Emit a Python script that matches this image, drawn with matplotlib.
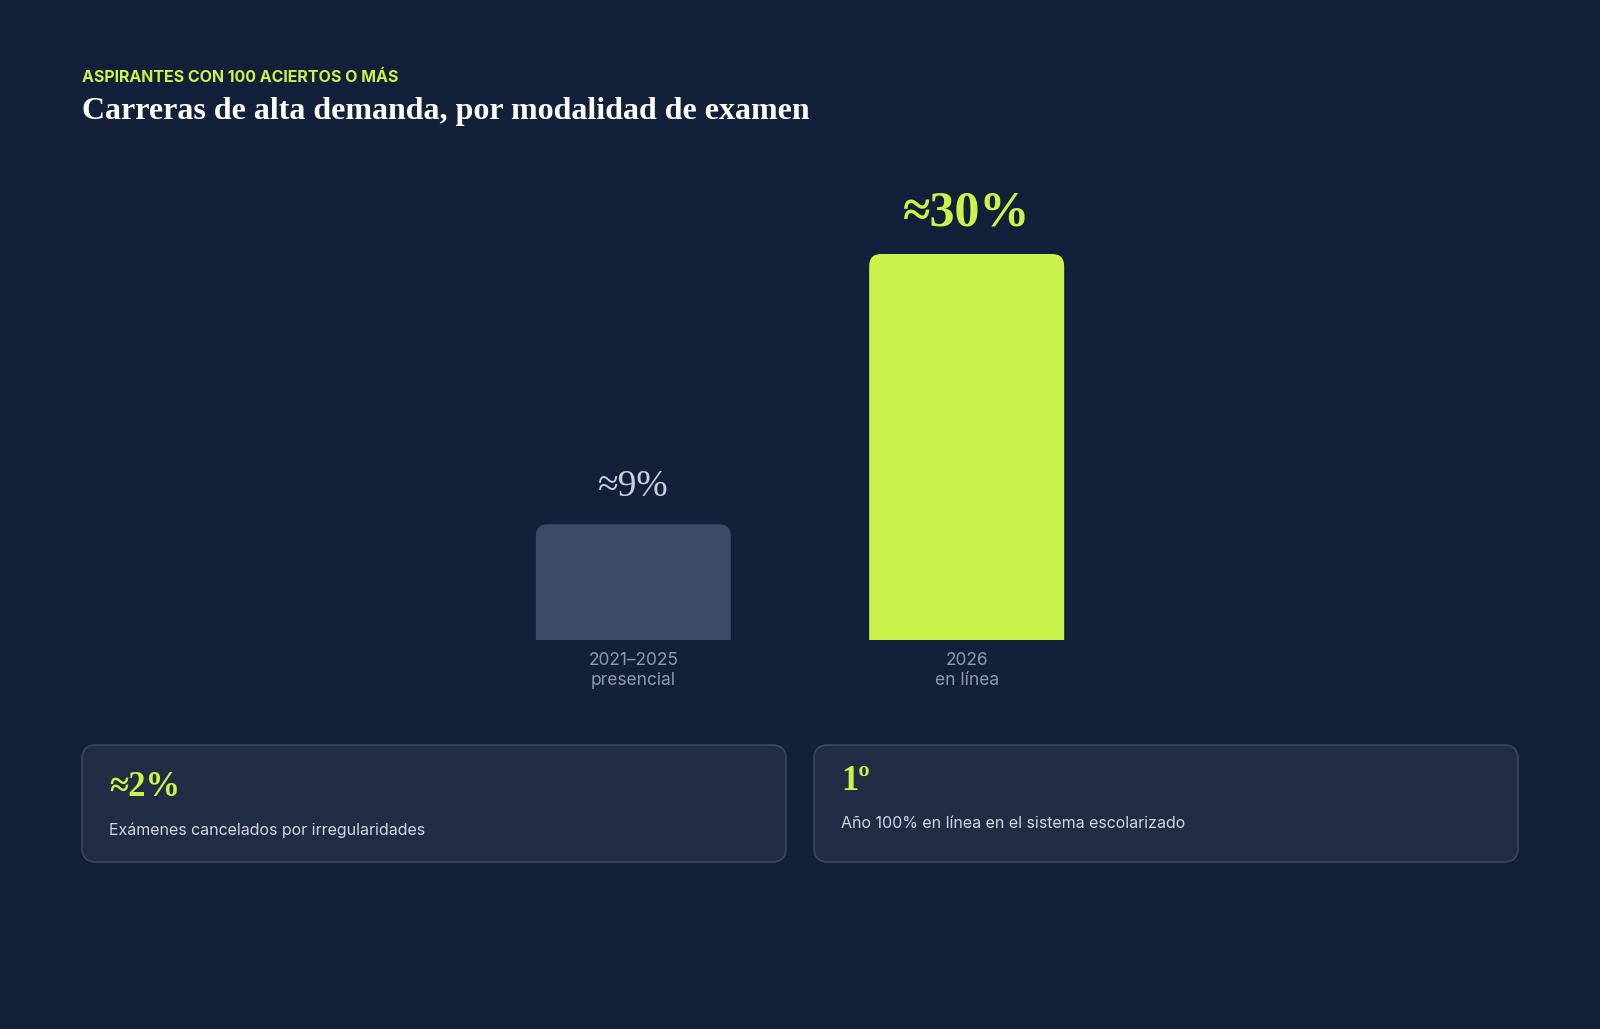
import matplotlib
matplotlib.use("Agg")
import matplotlib.pyplot as plt
from matplotlib.patches import FancyBboxPatch

categories = ["2021–2025\npresencial", "2026\nen línea"]
values = [9, 30]
value_labels = ["≈9%", "≈30%"]
card_values = ["≈2%", "1º"]
card_texts = ["Exámenes cancelados por irregularidades", "Año 100% en línea en el sistema escolarizado"]
kicker = "ASPIRANTES CON 100 ACIERTOS O MÁS"
title = "Carreras de alta demanda, por modalidad de examen"

BG = "#13203A"; GREEN = "#CCF24C"; GREY = "#3D4A66"
SERIF = ["Liberation Serif", "DejaVu Serif"]
SANS = ["Inter", "DejaVu Sans"]

W, H = 1600, 1029
fig = plt.figure(figsize=(W/100, H/100), dpi=100, facecolor=BG)
bgax = fig.add_axes([0, 0, 1, 1]); bgax.set_xlim(0, W); bgax.set_ylim(H, 0); bgax.axis("off")
bgax.set_facecolor(BG)

bgax.text(82, 78, kicker, color=GREEN, fontsize=11.5, fontweight="bold", family=SANS, va="center")
bgax.text(82, 112, title, color="white", fontsize=23, fontweight="bold", family=SERIF, va="center")

# cards
for i, x0 in enumerate([82, 814]):
    bgax.add_patch(FancyBboxPatch((x0, 745), 704, 117, boxstyle="round,pad=0,rounding_size=14",
                                  facecolor="#212D45", edgecolor="#3A4660", lw=1.2))
    bgax.text(x0 + 27, 788 if i == 0 else 782, card_values[i], color=GREEN, fontsize=25,
              fontweight="bold", family=SERIF, va="center")
    bgax.text(x0 + 27, 830 if i == 0 else 823, card_texts[i], color="#D0D6E0", fontsize=11.5,
              family=SANS, va="center")

# bar axes: px 400..1200 horizontally, 180..640 vertically
ax = fig.add_axes([400/W, 1 - 640/H, 800/W, 460/H])
ax.set_facecolor("none")
ax.set_xlim(-0.7, 1.7)
ymax = 30 * 460 / 386
ax.set_ylim(0, ymax)
ax.axis("off")
xpx = 800 / 2.4; ypx = 460 / ymax
bw = 195 / xpx
colors = [GREY, GREEN]
for i, v in enumerate(values):
    p = FancyBboxPatch((i - bw/2, -2), bw, v + 2, boxstyle="round,pad=0,rounding_size=%f" % (12/xpx),
                       mutation_aspect=xpx/ypx, facecolor=colors[i], edgecolor="none")
    ax.add_patch(p)
    p.set_clip_path(ax.patch)
    if i == 0:
        ax.text(i, v + 20/ypx, value_labels[i], color="#C8D0DE", fontsize=27, family=SERIF,
                ha="center", va="bottom")
    else:
        ax.text(i, v + 18/ypx, value_labels[i], color=GREEN, fontsize=36, fontweight="bold",
                family=SERIF, ha="center", va="bottom")
    ax.text(i, -12/ypx, categories[i], color="#8E99AE", fontsize=12.5, family=SANS,
            ha="center", va="top", linespacing=1.25, clip_on=False)

fig.savefig("out.png", dpi=100, facecolor=BG)
